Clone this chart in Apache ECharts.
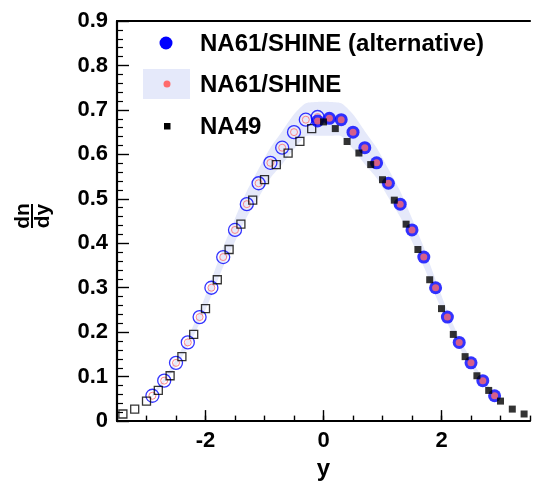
<!DOCTYPE html>
<html>
<head>
<meta charset="utf-8">
<script src="https://cdn.jsdelivr.net/npm/echarts@6/dist/echarts.min.js"></script>
<style>
html,body{margin:0;padding:0;background:#fff;}
#chart{width:533px;height:486px;}
</style>
</head>
<body>
<div id="chart"></div>
<script>
// ---- data (rapidity y, dn/dy) ----
// NA61/SHINE measured (right side, filled)
const na61Y = [-0.1, 0.1, 0.3, 0.5, 0.7, 0.9, 1.1, 1.3, 1.5, 1.7, 1.9, 2.1, 2.3, 2.5, 2.7, 2.9];
const na61AltDndy = [0.675, 0.681, 0.678, 0.650, 0.615, 0.581, 0.535, 0.488, 0.430, 0.369, 0.300, 0.234, 0.177, 0.131, 0.091, 0.057];
const na61Dndy    = [0.675, 0.681, 0.678, 0.650, 0.615, 0.581, 0.535, 0.488, 0.430, 0.369, 0.300, 0.234, 0.177, 0.131, 0.091, 0.057];
// NA61/SHINE reflected (left side, open)
const na61ReflY = [-0.1, -0.3, -0.5, -0.7, -0.9, -1.1, -1.3, -1.5, -1.7, -1.9, -2.1, -2.3, -2.5, -2.7, -2.9];
const na61ReflAltDndy = [0.684, 0.678, 0.650, 0.615, 0.581, 0.535, 0.488, 0.430, 0.369, 0.300, 0.234, 0.177, 0.131, 0.091, 0.057];
const na61ReflDndy    = [0.684, 0.678, 0.650, 0.615, 0.581, 0.535, 0.488, 0.430, 0.369, 0.300, 0.234, 0.177, 0.131, 0.091, 0.057];
// NA49 measured (right, filled) and reflected (left, open)
const na49Y = [0.0, 0.2, 0.4, 0.6, 0.8, 1.0, 1.2, 1.4, 1.6, 1.8, 2.0, 2.2, 2.4, 2.6, 2.8, 3.0, 3.2, 3.4];
const na49Dndy = [0.673, 0.658, 0.629, 0.603, 0.577, 0.543, 0.497, 0.443, 0.386, 0.318, 0.253, 0.195, 0.145, 0.102, 0.069, 0.045, 0.027, 0.016];
const na49ReflY = [-0.2, -0.4, -0.6, -0.8, -1.0, -1.2, -1.4, -1.6, -1.8, -2.0, -2.2, -2.4, -2.6, -2.8, -3.0, -3.2, -3.4];
const na49ReflDndy = [0.658, 0.629, 0.603, 0.577, 0.543, 0.497, 0.443, 0.386, 0.318, 0.253, 0.195, 0.145, 0.102, 0.069, 0.045, 0.027, 0.016];
// NA61/SHINE systematic band
const bandY    = [-2.9, -2.7, -2.5, -2.3, -2.1, -1.9, -1.7, -1.5, -1.3, -1.1, -0.9, -0.7, -0.5, -0.3, -0.1, 0.1, 0.3, 0.5, 0.7, 0.9, 1.1, 1.3, 1.5, 1.7, 1.9, 2.1, 2.3, 2.5, 2.7, 2.9];
const bandHigh = [0.061, 0.097, 0.139, 0.188, 0.248, 0.318, 0.391, 0.456, 0.517, 0.567, 0.615, 0.652, 0.690, 0.715, 0.718, 0.718, 0.715, 0.690, 0.652, 0.615, 0.567, 0.517, 0.456, 0.391, 0.318, 0.248, 0.188, 0.139, 0.097, 0.061];
const bandLow  = [0.054, 0.086, 0.123, 0.166, 0.220, 0.282, 0.347, 0.404, 0.459, 0.503, 0.547, 0.578, 0.612, 0.641, 0.642, 0.642, 0.641, 0.612, 0.578, 0.547, 0.503, 0.459, 0.404, 0.347, 0.282, 0.220, 0.166, 0.123, 0.086, 0.054];
// axis ticks
const xMajorTicks = [-2, 0, 2];
const xMinorTicks = [-3.5, -3, -2.5, -1.5, -1, -0.5, 0.5, 1, 1.5, 2.5, 3, 3.5];
const legendLabels = ['NA61/SHINE (alternative)', 'NA61/SHINE', 'NA49'];

const FONT = '"Liberation Sans", Arial, Helvetica, sans-serif';
const BLUE = '#0000ff', RED = '#ff6b6b', BAND = '#e5e9fa';
const zip = (xs, ys) => xs.map((x, i) => [x, ys[i]]);

const chart = echarts.init(document.getElementById('chart'), null, {renderer: 'canvas'});
const option = {
  animation: false,
  backgroundColor: '#fff',
  grid: {left: 117, top: 21, width: 420, height: 403, containLabel: false},
  xAxis: [
    {
      type: 'value', min: -3.5, max: 3.5, interval: 0.5, position: 'bottom',
      axisLine: {show: true, onZero: false, lineStyle: {color: '#000', width: 2.2}},
      axisTick: {show: true, inside: true, length: 5.5, lineStyle: {color: '#000', width: 1.4}},
      axisLabel: {
        margin: 9, color: '#000', fontFamily: FONT, fontWeight: 'bold', fontSize: 22,
        formatter: v => (xMajorTicks.indexOf(v) >= 0 ? String(v) : '')
      },
      splitLine: {show: false},
      name: 'y', nameLocation: 'middle', nameGap: 30,
      nameTextStyle: {color: '#000', fontFamily: FONT, fontWeight: 'bold', fontSize: 24}
    },
    {
      type: 'value', min: -3.5, max: 3.5, position: 'bottom',
      axisLine: {show: false, onZero: false},
      axisTick: {show: true, inside: true, length: 11, customValues: xMajorTicks, lineStyle: {color: '#000', width: 1.4}},
      axisLabel: {show: false},
      splitLine: {show: false}
    },
    {
      type: 'value', min: -3.5, max: 3.5, position: 'top',
      axisLine: {show: true, onZero: false, lineStyle: {color: '#000', width: 2.2}},
      axisTick: {show: false}, axisLabel: {show: false}, splitLine: {show: false}
    }
  ],
  yAxis: [
    {
      type: 'value', min: 0, max: 0.9, interval: 0.1, position: 'left',
      axisLine: {show: true, onZero: false, lineStyle: {color: '#000', width: 2.2}},
      axisTick: {show: true, inside: true, length: 12, lineStyle: {color: '#000', width: 1.4}},
      minorTick: {show: true, splitNumber: 5, length: 6, lineStyle: {color: '#000', width: 1.2}},
      axisLabel: {margin: 9, color: '#000', fontFamily: FONT, fontWeight: 'bold', fontSize: 22},
      splitLine: {show: false}, minorSplitLine: {show: false}
    }
  ],
  graphic: [
    // y-axis title: dn/dy fraction, rotated
    {
      type: 'group', x: 32, y: 216, rotation: Math.PI / 2,
      children: [
        {type: 'text', x: 0, y: -9, style: {text: 'dn', fill: '#000', font: 'bold 21px ' + FONT, align: 'center', verticalAlign: 'middle'}},
        {type: 'line', shape: {x1: -12, y1: 0, x2: 12, y2: 0}, style: {stroke: '#000', lineWidth: 2}},
        {type: 'text', x: 0, y: 11, style: {text: 'dy', fill: '#000', font: 'bold 21px ' + FONT, align: 'center', verticalAlign: 'middle'}}
      ]
    },
    // legend
    {type: 'circle', shape: {cx: 166, cy: 43, r: 6.5}, style: {fill: BLUE}, z: 20},
    {type: 'text', x: 200, y: 44, style: {text: legendLabels[0], fill: '#000', font: 'bold 24px ' + FONT, verticalAlign: 'middle'}, z: 20},
    {type: 'rect', shape: {x: 143, y: 69, width: 47, height: 30}, style: {fill: BAND}, z: 20},
    {type: 'circle', shape: {cx: 167, cy: 84, r: 3.5}, style: {fill: RED}, z: 21},
    {type: 'text', x: 200, y: 85, style: {text: legendLabels[1], fill: '#000', font: 'bold 24px ' + FONT, verticalAlign: 'middle'}, z: 20},
    {type: 'rect', shape: {x: 164, y: 123, width: 6.5, height: 6.5}, style: {fill: '#000'}, z: 20},
    {type: 'text', x: 200, y: 127, style: {text: legendLabels[2], fill: '#000', font: 'bold 24px ' + FONT, verticalAlign: 'middle'}, z: 20}
  ],
  series: [
    {
      type: 'custom', name: 'band', xAxisIndex: 0, yAxisIndex: 0, z: 1, silent: true,
      data: bandY.map((x, i) => [x, bandLow[i], bandHigh[i]]),
      encode: {x: 0, y: [1, 2]},
      renderItem: (params, api) => {
        if (params.dataIndex !== 0) return null;
        const pts = [];
        for (let i = 0; i < bandY.length; i++) pts.push(api.coord([bandY[i], bandHigh[i]]));
        for (let i = bandY.length - 1; i >= 0; i--) pts.push(api.coord([bandY[i], bandLow[i]]));
        return {type: 'polygon', shape: {points: pts, smooth: 0.25}, style: {fill: BAND}};
      }
    },
    {
      type: 'scatter', name: 'NA61 alt refl', z: 3, silent: true, symbol: 'circle', symbolSize: 13,
      data: zip(na61ReflY, na61ReflAltDndy),
      itemStyle: {color: 'rgba(0,0,0,0)', borderColor: BLUE, borderWidth: 1.3}
    },
    {
      type: 'scatter', name: 'NA61 refl', z: 4, silent: true, symbol: 'circle', symbolSize: 7,
      data: zip(na61ReflY, na61ReflDndy),
      itemStyle: {color: 'rgba(0,0,0,0)', borderColor: RED, borderWidth: 1}
    },
    {
      type: 'scatter', name: 'NA49 refl', z: 5, silent: true, symbol: 'rect', symbolSize: 8,
      data: zip(na49ReflY, na49ReflDndy),
      itemStyle: {color: 'rgba(0,0,0,0)', borderColor: '#000', borderWidth: 1.3}
    },
    {
      type: 'scatter', name: 'NA61 alt', z: 6, silent: true, symbol: 'circle', symbolSize: 13,
      data: zip(na61Y, na61AltDndy),
      itemStyle: {color: BLUE}
    },
    {
      type: 'scatter', name: 'NA61', z: 7, silent: true, symbol: 'circle', symbolSize: 7,
      data: zip(na61Y, na61Dndy),
      itemStyle: {color: RED}
    },
    {
      type: 'scatter', name: 'NA49', z: 8, silent: true, symbol: 'rect', symbolSize: 7,
      data: zip(na49Y, na49Dndy),
      itemStyle: {color: '#000'}
    }
  ]
};
chart.setOption(option);
</script>
</body>
</html>
